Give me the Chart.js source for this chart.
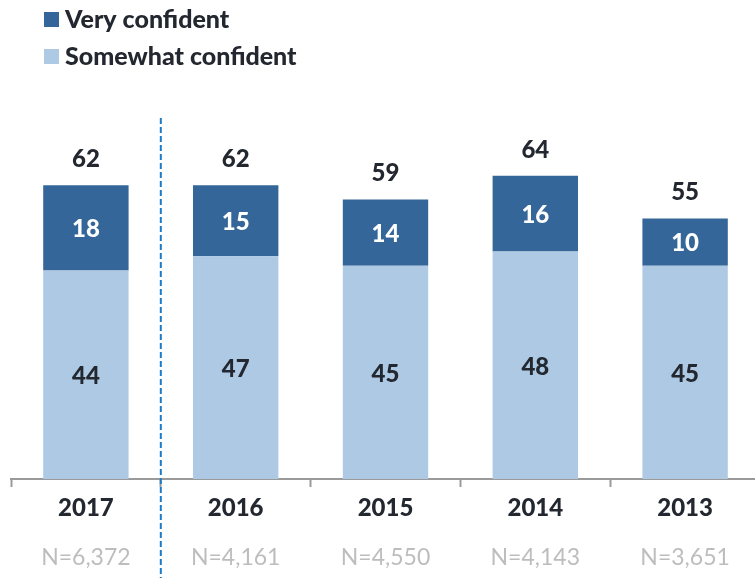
<!DOCTYPE html>
<html>
<head>
<meta charset="utf-8">
<script src="https://cdn.jsdelivr.net/npm/chart.js@4.4.1/dist/chart.umd.min.js"></script>
<style>
  html, body { margin: 0; padding: 0; background: #ffffff; overflow: hidden; }
  #wrap { width: 755px; height: 578px; overflow: hidden; position: relative; }
  canvas { display: block; }
</style>
</head>
<body>
<div id="wrap"><canvas id="chart" width="765" height="578"></canvas></div>
<script>
// Survey years and sample sizes
const years = ['2017', '2016', '2015', '2014', '2013'];
const sampleSizes = ['N=6,372', 'N=4,161', 'N=4,550', 'N=4,143', 'N=3,651'];

// Share of respondents (%)
const somewhatConfident = [44, 47, 45, 48, 45];
const veryConfident = [18, 15, 14, 16, 10];
const totalConfident = [62, 62, 59, 64, 55];

const FONT = 'Lato, "Open Sans", sans-serif';
const BOLD = '900';
const DARK_TEXT = '#23272f';
const VERY_COLOR = '#346699';
const SOMEWHAT_COLOR = '#adc9e4';

// Legend stacked in a column at the top-left
const columnLegend = {
  id: 'columnLegend',
  afterDraw(chart) {
    const ctx = chart.ctx;
    const items = [
      { label: chart.data.datasets[1].label, color: chart.data.datasets[1].backgroundColor },
      { label: chart.data.datasets[0].label, color: chart.data.datasets[0].backgroundColor }
    ];
    ctx.save();
    ctx.font = BOLD + ' 25px ' + FONT;
    ctx.textBaseline = 'middle';
    ctx.textAlign = 'left';
    items.forEach((it, i) => {
      const y = 12 + i * 37;
      ctx.fillStyle = it.color;
      ctx.fillRect(44, y, 15, 15);
      ctx.fillStyle = DARK_TEXT;
      ctx.fillText(it.label, 65, y + 8);
    });
    ctx.restore();
  }
};

// Segment values, stack totals, sample sizes and the divider after the first year
const annotations = {
  id: 'annotations',
  afterDatasetsDraw(chart) {
    const ctx = chart.ctx;
    const xs = chart.scales.x;
    const ys = chart.scales.y;
    ctx.save();
    ctx.textAlign = 'center';
    ctx.textBaseline = 'middle';
    ctx.font = BOLD + ' 24px ' + FONT;

    chart.data.datasets.forEach((ds, di) => {
      const meta = chart.getDatasetMeta(di);
      meta.data.forEach((bar, i) => {
        const props = bar.getProps(['x', 'y', 'base'], true);
        ctx.fillStyle = di === 1 ? '#ffffff' : DARK_TEXT;
        ctx.fillText(String(ds.data[i]), props.x, (props.y + props.base) / 2 + 1.5);
      });
    });

    totalConfident.forEach((t, i) => {
      ctx.fillStyle = DARK_TEXT;
      ctx.fillText(String(t), xs.getPixelForValue(i), ys.getPixelForValue(t) - 26);
    });

    ctx.font = '23px ' + FONT;
    ctx.fillStyle = '#bdbdbd';
    sampleSizes.forEach((s, i) => {
      ctx.fillText(s, xs.getPixelForValue(i), 558);
    });

    const divX = (xs.getPixelForValue(0) + xs.getPixelForValue(1)) / 2;
    ctx.strokeStyle = '#1b7bcb';
    ctx.lineWidth = 2;
    ctx.setLineDash([6, 3]);
    ctx.beginPath();
    ctx.moveTo(divX, 118);
    ctx.lineTo(divX, 578);
    ctx.stroke();
    ctx.restore();
  }
};

new Chart(document.getElementById('chart'), {
  type: 'bar',
  data: {
    labels: years,
    datasets: [
      {
        label: 'Somewhat confident',
        data: somewhatConfident,
        backgroundColor: SOMEWHAT_COLOR,
        borderWidth: 0,
        barPercentage: 0.57,
        categoryPercentage: 1
      },
      {
        label: 'Very confident',
        data: veryConfident,
        backgroundColor: VERY_COLOR,
        borderWidth: 0,
        barPercentage: 0.57,
        categoryPercentage: 1
      }
    ]
  },
  options: {
    responsive: false,
    animation: false,
    devicePixelRatio: 1,
    layout: { padding: { top: 100, left: 11, right: 5, bottom: 0 } },
    plugins: {
      legend: { display: false },
      tooltip: { enabled: false }
    },
    scales: {
      x: {
        stacked: true,
        afterFit(scale) { scale.height = 99; },
        border: { display: true, color: '#9a9a9a', width: 2 },
        grid: {
          drawOnChartArea: false,
          drawTicks: true,
          tickLength: 8,
          tickWidth: 2,
          tickColor: '#9a9a9a'
        },
        ticks: {
          color: DARK_TEXT,
          font: { family: FONT, size: 24, weight: BOLD },
          padding: 7,
          maxRotation: 0
        }
      },
      y: {
        stacked: true,
        display: false,
        min: 0,
        max: 80
      }
    }
  },
  plugins: [columnLegend, annotations]
});
</script>
</body>
</html>
